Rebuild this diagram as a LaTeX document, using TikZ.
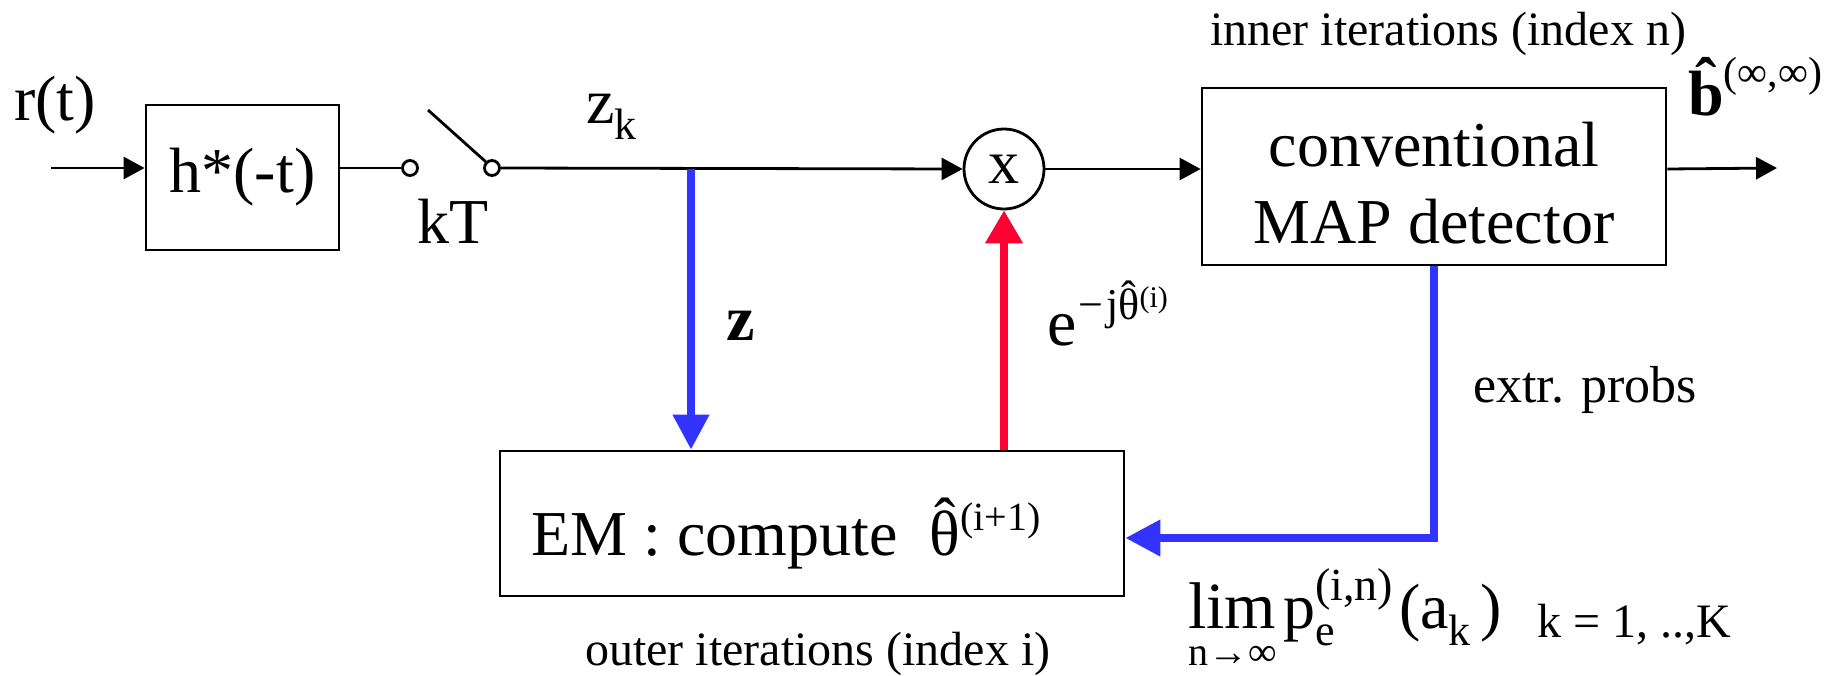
\documentclass[tikz,border=0pt]{standalone}
\usepackage{fontspec}
\setmainfont{Liberation Serif}
\usetikzlibrary{arrows.meta,calc}
\definecolor{myblue}{RGB}{51,51,255}
\definecolor{myred}{RGB}{255,0,51}
\newcommand\fsz[1]{\fontsize{#1}{#1}\selectfont}
\newcommand\hatover[2]{\setbox0\hbox{#2}\rlap{\hbox to\wd0{\hss\raisebox{#1}{ˆ}\hss}}\box0}
\begin{document}
\begin{tikzpicture}[x=1pt,y=-1pt,
  wire/.style={line width=2.8pt},
  arr/.style={wire,-{Triangle[length=21pt,width=22pt]}},
  blk/.style={draw,line width=2.8pt,inner sep=0pt},
  bluearr/.style={line width=7.5pt,draw=myblue,-{Triangle[length=35pt,width=35pt]}},
  redarr/.style={line width=7.5pt,draw=myred,-{Triangle[length=33pt,width=36pt]}},
  lbl/.style={inner sep=0pt,anchor=base west},
  swc/.style={circle,draw,wire,fill=white,minimum size=15pt,inner sep=0pt}]
\useasboundingbox (0,0) rectangle (1843,675);

% boxes
\node[blk,minimum width=193pt,minimum height=145pt,font=\fsz{64}] (hf) at (242.5,177.5) {h*(-t)};
\node[blk,minimum width=464pt,minimum height=177pt] (map) at (1434,176.5) {};
\node[inner sep=0pt,align=center,font=\fontsize{64}{77}\selectfont] (maptxt) at (1434,183.5) {conventional\\MAP detector};
\node[blk,minimum width=624pt,minimum height=145pt] (em) at (812,523.5) {};
\node[lbl,font=\fsz{64}] (emt) at (531,555) {EM : compute\ \ \hatover{0.2em}{θ}\raisebox{0.38em}{\fsz{40}(i+1)}};

% switch
\node[swc] (s1) at (410,168) {};
\node[swc] (s2) at (492,168) {};
\coordinate (lev) at (428,110);
\draw[wire] (lev) -- (s2.135);

% multiplier
\node[circle,draw,wire,minimum size=80pt,inner sep=0pt,font=\fsz{62}] (mul) at (1004,169) {x};

% main wires
\coordinate (rin) at (51,168);
\coordinate (out) at (1777,168);
\draw[arr] (rin) -- (rin -| hf.west);
\draw[wire] (hf.east |- s1) -- (s1.west);
\draw[arr] (s2.east) -- (mul.west);
\draw[arr] (mul.east) -- (mul.east -| map.west);
\draw[arr] (map.east |- mul) -- (out);

% feedback arrows
\coordinate (ztap) at (691,169);
\draw[bluearr] (ztap) -- (ztap |- em.north);
\draw[redarr] (mul.south |- em.north) -- (mul.south);
\coordinate (fbrow) at (0,538);
\draw[bluearr] (map.south) |- (em.east |- fbrow);

% labels
\node[lbl,font=\fsz{64}] (rt) at (14,120) {r(t)};
\node[inner sep=0pt,anchor=base,font=\fsz{64}] (kt) at (453.5,243) {kT};
\node[lbl,font=\fsz{64}] (zk) at (586,123) {z\raisebox{-0.25em}{\fsz{44}k}};
\node[lbl,font=\fsz{64}\bfseries] (zl) at (726,340) {z};
\node[lbl] (eth) at (1047,345) {\fsz{66}e\kern2pt\raisebox{0.38em}{\fsz{44}−\kern3pt j\hatover{0.2em}{θ}\raisebox{0.29em}{\fsz{30}(i)}}};
\node[lbl] (bhat) at (1688,115) {\fsz{64}\bfseries\hatover{0.2em}{b}\raisebox{0.45em}{\fsz{42}\mdseries(∞,∞)}};
\node[lbl,font=\fsz{48}] (inner) at (1210,45) {inner iterations (index n)};
\node[lbl,font=\fsz{52}] (ep) at (1473,402) {extr. probs};
\node[lbl,font=\fsz{48}] (outer) at (585,665) {outer iterations (index i)};
\node[lbl,font=\fsz{66}] (lim) at (1188,628) {lim};
\node[lbl,font=\fsz{40}] (limsub) at (1188,665) {n→∞};
\node[lbl] (pe) at (1283,628) {\fsz{64}p\rlap{\raisebox{-0.27em}{\fsz{44}e}}\raisebox{0.43em}{\fsz{46}(i,n)}\kern6pt(a\raisebox{-0.27em}{\fsz{44}k}\kern10pt)};
\node[lbl,font=\fsz{48}] (kr) at (1537,637) {k = 1, ..,K};
\end{tikzpicture}
\end{document}
